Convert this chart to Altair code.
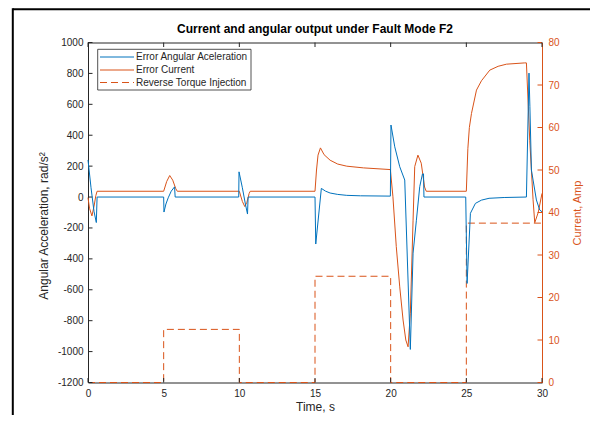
import altair as alt
import pandas as pd

# ---------------- data ----------------
# Error Angular Acceleration (rad/s^2) -> left axis
acc_t = [0, 0.2, 0.4, 0.55, 0.6,
         5.0, 5.02, 5.15, 5.3, 5.5, 5.72, 5.76,
         9.96, 9.98, 10.2, 10.4, 10.54, 10.58,
         15.0, 15.05, 15.42, 15.7, 16.0, 16.5, 17.1, 18.0, 19.98,
         20.02, 20.27, 20.6, 20.93, 21.3, 21.48, 21.7, 21.92, 22.1, 22.17, 22.2,
         24.96, 25.05, 25.27, 25.6, 26.0, 26.5, 27.5, 28.97, 29.14, 29.2, 29.3, 29.41, 29.63, 29.85, 30.0]
acc_v = [240, 60, -95, -165, 0,
         0, -97, -45, -5, 38, 66, 0,
         0, 163, 60, -45, -110, 0,
         0, -304, 56, 38, 26, 17, 11, 8, 6,
         466, 325, 196, 110, -986, -363, -150, 67, 149, 150, 0,
         0, -559, -105, -41, -20, -8, -3, 0, 802, 584, 175, 110, -19, -84, -95]

# Error Current (Amp) -> right axis
cur_t = [0, 0.1, 0.26, 0.4, 0.52, 0.6,
         5.0, 5.2, 5.4, 5.6, 5.8, 5.9,
         10.0, 10.2, 10.36, 10.5, 10.65, 10.72,
         15.0, 15.1, 15.2, 15.36, 15.6, 16.0, 16.5, 17.1, 18.2, 19.98,
         20.15, 20.37, 20.6, 20.82, 21.0, 21.15, 21.3, 21.48, 21.59, 21.8, 22.02, 22.24, 22.35,
         25.0, 25.1, 25.2, 25.34, 25.67, 26.0, 26.55, 27.1, 27.65, 28.86, 28.97,
         29.19, 29.41, 29.52, 29.75, 30.0]
cur_v = [43.5, 41.0, 39.2, 41.5, 44.0, 45,
         45, 47.3, 48.7, 47.6, 45.6, 45,
         45, 42.6, 41.4, 42.4, 44.5, 45,
         45, 50, 53.5, 55.2, 53.6, 52.3, 51.4, 50.9, 50.5, 50.1,
         43.7, 32, 22.5, 14.7, 10, 8.4, 16.3, 38.2, 50.8, 53.5, 51.6, 46, 45,
         45, 55, 60, 63.3, 68.8, 71, 73.5, 74.4, 74.9, 75.2, 75.2,
         57, 43, 37.6, 40, 44.5]

# Reverse Torque Injection (Amp scale, dashed)
inj_t = [0, 5, 5, 10, 10, 15, 15, 20, 20, 25, 25, 30]
inj_v = [0, 0, 12.5, 12.5, 0, 0, 25, 25, 0, 0, 37.5, 37.5]

x_ticks = [0, 5, 10, 15, 20, 25, 30]
left_ticks = [-1200, -1000, -800, -600, -400, -200, 0, 200, 400, 600, 800, 1000]
right_ticks = [0, 10, 20, 30, 40, 50, 60, 70, 80]
legend_labels = ["Error Angular Aceleration", "Error Current", "Reverse Torque Injection"]
title_text = "Current and angular output under Fault Mode F2"

# ---------------- styling ----------------
BLUE = "#0072BD"
ORANGE = "#D95319"
DARK = "#262626"
FONT = "Liberation Sans"
W, H = 454, 340
TL = 4.5  # inward tick length
LW = 1.0

acc_df = pd.DataFrame({"t": acc_t, "v": acc_v, "i": range(len(acc_t))})
cur_df = pd.DataFrame({"t": cur_t, "v": cur_v, "i": range(len(cur_t))})
inj_df = pd.DataFrame({"t": inj_t, "v": inj_v, "i": range(len(inj_t))})

x_scale = alt.Scale(domain=[0, 30], nice=False, zero=False)
yl_scale = alt.Scale(domain=[-1200, 1000], nice=False, zero=False)
yr_scale = alt.Scale(domain=[0, 80], nice=False, zero=False)

x_axis = alt.Axis(values=x_ticks, ticks=False, tickSize=0, domain=False, grid=False,
                  labelPadding=6, labelFontSize=10, labelColor=DARK, labelFlush=False,
                  title="Time, s", titleFontSize=12, titleFontWeight="normal",
                  titleColor=DARK, titlePadding=3)
yl_axis = alt.Axis(orient="left", values=left_ticks, ticks=False, tickSize=0, domain=False,
                   grid=False, labelPadding=5, labelFontSize=10, labelColor=DARK,
                   labelExpr="'' + datum.value",
                   title="Angular Acceleration, rad/s²", titleFontSize=12,
                   titleFontWeight="normal", titleColor=DARK, titlePadding=7,
                   titleY=H / 2 + 13)
yr_axis = alt.Axis(orient="right", values=right_ticks, ticks=False, tickSize=0, domain=True,
                   domainColor=ORANGE, grid=False, labelPadding=6, labelFontSize=10,
                   labelColor=ORANGE, title="Current, Amp", titleFontSize=11,
                   titleFontWeight="normal", titleColor=ORANGE, titleAngle=270,
                   titleBaseline="top", titlePadding=12)

X = alt.X("t:Q", scale=x_scale, axis=x_axis)

# ---------------- right (current) group ----------------
cur_line = alt.Chart(cur_df).mark_line(color=ORANGE, strokeWidth=LW).encode(
    x=X, y=alt.Y("v:Q", scale=yr_scale, axis=yr_axis), order="i:Q")
inj_line = alt.Chart(inj_df).mark_line(color=ORANGE, strokeWidth=LW, strokeDash=[7, 4]).encode(
    x=X, y=alt.Y("v:Q", scale=yr_scale, axis=yr_axis), order="i:Q")
r_ticks = alt.Chart(pd.DataFrame({"v": right_ticks})).mark_rule(color=ORANGE, strokeWidth=1).encode(
    y=alt.Y("v:Q", scale=yr_scale, axis=yr_axis), x=alt.value(W), x2=alt.value(W - TL))
right_group = alt.layer(cur_line, inj_line, r_ticks)

# ---------------- left (acceleration) group ----------------
l_ticks = alt.Chart(pd.DataFrame({"v": left_ticks})).mark_rule(color=DARK, strokeWidth=1).encode(
    y=alt.Y("v:Q", scale=yl_scale, axis=yl_axis), x=alt.value(0), x2=alt.value(TL))
xt_df = pd.DataFrame({"t": x_ticks})
top_ticks = alt.Chart(xt_df).mark_rule(color=DARK, strokeWidth=1).encode(
    x=X, y=alt.value(0), y2=alt.value(TL))
bot_ticks = alt.Chart(xt_df).mark_rule(color=DARK, strokeWidth=1).encode(
    x=X, y=alt.value(H), y2=alt.value(H - TL))
acc_line = alt.Chart(acc_df).mark_line(color=BLUE, strokeWidth=LW).encode(
    x=X, y=alt.Y("v:Q", scale=yl_scale, axis=yl_axis), order="i:Q")
left_group = alt.layer(l_ticks, top_ticks, bot_ticks, acc_line)

# ---------------- decorations: outer frame, title, legend ----------------
dummy = pd.DataFrame({"d": [0]})
deco = [
    alt.Chart(dummy).mark_rule(color="black", strokeWidth=2).encode(
        x=alt.value(-75.2), x2=alt.value(510), y=alt.value(-33.2)),
    alt.Chart(dummy).mark_rule(color="black", strokeWidth=2).encode(
        x=alt.value(-75.2), y=alt.value(-34.2), y2=alt.value(380)),
    alt.Chart(dummy).mark_text(text=title_text, align="center", baseline="middle",
                               fontSize=12, fontWeight="bold", color="black", font=FONT).encode(
        x=alt.value(W / 2), y=alt.value(-13.5)),
    alt.Chart(dummy).mark_rect(fill="white", stroke=DARK, strokeWidth=0.8).encode(
        x=alt.value(9.7), x2=alt.value(163), y=alt.value(6.8), y2=alt.value(47.5)),
]
leg_colors = [BLUE, ORANGE, ORANGE]
leg_dash = [[1, 0], [1, 0], [7, 4]]
leg_y = [14.5, 27.5, 40]
for lab, col, dash, yy in zip(legend_labels, leg_colors, leg_dash, leg_y):
    deco.append(alt.Chart(dummy).mark_rule(color=col, strokeWidth=LW, strokeDash=dash).encode(
        x=alt.value(12), x2=alt.value(46), y=alt.value(yy)))
    deco.append(alt.Chart(dummy).mark_text(text=lab, align="left", baseline="middle",
                                            fontSize=10, color=DARK, font=FONT).encode(
        x=alt.value(48), y=alt.value(yy)))
deco_group = alt.layer(*deco)

chart = alt.layer(right_group, left_group, deco_group).resolve_scale(
    y="independent"
).properties(
    width=W, height=H,
    autosize=alt.AutoSizeParams(type="none"),
    padding={"left": 80, "top": 34.5, "right": 48, "bottom": 32.5},
    background="white",
).configure(font=FONT).configure_view(stroke=DARK, strokeWidth=1)

chart.save("out.html", embed_options={"renderer": "svg", "actions": False})
